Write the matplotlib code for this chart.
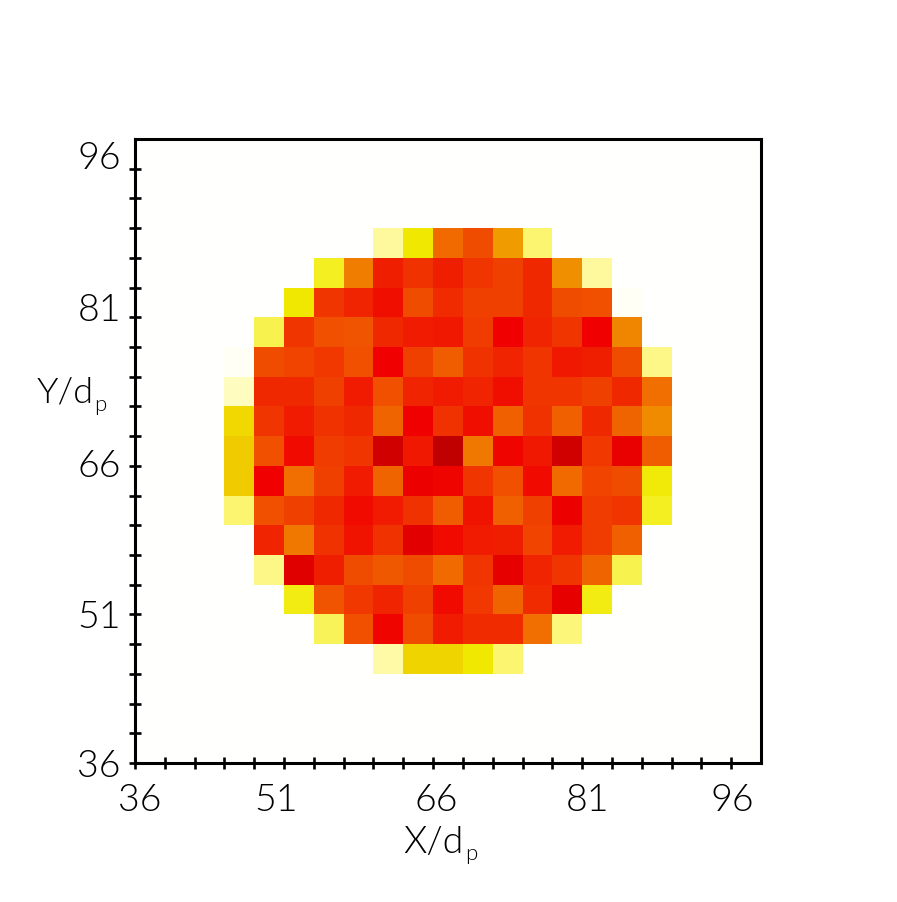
import numpy as np
import matplotlib
matplotlib.use("Agg")
import matplotlib.pyplot as plt
from matplotlib.colors import LinearSegmentedColormap
from matplotlib.transforms import ScaledTranslation

plt.rcParams['font.family'] = ['Lato', 'DejaVu Sans']
plt.rcParams['font.weight'] = 300

x_edges = np.arange(36, 100, 3)
y_edges = np.arange(36, 100, 3)
major_ticks = [36, 51, 66, 81, 96]

# cell levels, rows listed from the top of the picture down
density = np.array([
    [0] * 21,
    [0] * 21,
    [0] * 21,
    [0, 0, 0, 0, 0, 0, 0, 0, 14, 30, 58, 65, 48, 18, 0, 0, 0, 0, 0, 0, 0],
    [0, 0, 0, 0, 0, 0, 25, 54, 78, 72, 78, 71, 68, 75, 50, 14, 0, 0, 0, 0, 0],
    [0, 0, 0, 0, 0, 30, 71, 76, 82, 65, 74, 68, 68, 75, 65, 64, 3, 0, 0, 0, 0],
    [0, 0, 0, 0, 21, 71, 64, 63, 75, 79, 80, 69, 85, 76, 71, 85, 52, 0, 0, 0, 0],
    [0, 0, 0, 3, 65, 67, 70, 64, 85, 68, 61, 72, 76, 71, 80, 78, 65, 16, 0, 0, 0],
    [0, 0, 0, 10, 75, 75, 68, 79, 64, 76, 79, 76, 82, 71, 71, 68, 75, 57, 0, 0, 0],
    [0, 0, 0, 34, 71, 79, 72, 75, 59, 85, 72, 82, 60, 72, 60, 75, 59, 51, 0, 0, 0],
    [0, 0, 0, 38, 64, 83, 69, 71, 95, 80, 100, 55, 84, 80, 95, 70, 87, 61, 0, 0, 0],
    [0, 0, 0, 38, 85, 57, 68, 79, 59, 86, 84, 71, 64, 83, 58, 67, 65, 29, 0, 0, 0],
    [0, 0, 0, 18, 64, 68, 75, 83, 79, 72, 61, 81, 60, 68, 86, 69, 71, 25, 0, 0, 0],
    [0, 0, 0, 0, 76, 55, 72, 81, 72, 89, 83, 79, 78, 67, 79, 69, 60, 0, 0, 0, 0],
    [0, 0, 0, 0, 16, 90, 78, 65, 62, 65, 58, 71, 88, 76, 71, 59, 21, 0, 0, 0, 0],
    [0, 0, 0, 0, 0, 27, 63, 70, 76, 68, 83, 70, 59, 74, 88, 27, 0, 0, 0, 0, 0],
    [0, 0, 0, 0, 0, 0, 20, 64, 84, 65, 79, 74, 74, 57, 17, 0, 0, 0, 0, 0, 0],
    [0, 0, 0, 0, 0, 0, 0, 0, 13, 35, 35, 30, 18, 0, 0, 0, 0, 0, 0, 0, 0],
    [0] * 21,
    [0] * 21,
    [0] * 21,
])

level_colors = [
    (0.00, '#fffffd'), (0.03, '#fffff6'), (0.12, '#fffbb0'), (0.18, '#fbf570'),
    (0.25, '#f3ef20'), (0.30, '#f0e800'), (0.36, '#f0d000'), (0.42, '#f0c000'),
    (0.50, '#f09000'), (0.55, '#f07800'), (0.60, '#f06000'), (0.65, '#f04c00'),
    (0.70, '#f03800'), (0.75, '#f02800'), (0.80, '#f01800'), (0.85, '#f00000'),
    (0.90, '#e00000'), (0.95, '#d00000'), (1.00, '#c00000'),
]
cmap = LinearSegmentedColormap.from_list('rig', level_colors, N=512)


def pixel_text(fig, px, py, text, size):
    # place text by its baseline, in pixels from the top left of the picture
    fig.text(px / 897, 1 - py / 902, text, fontsize=size, ha='left', va='baseline')


fig = plt.figure(figsize=(8.97, 9.02), dpi=100)
ax = fig.add_axes((135 / 897, 1 - 763 / 902, 626 / 897, 624 / 902))

ax.pcolormesh(x_edges, y_edges, density[::-1], cmap=cmap, vmin=0, vmax=100)
ax.set_xlim(36, 99)
ax.set_ylim(36, 99)

for spine in ax.spines.values():
    spine.set_linewidth(2.2)

ax.set_xticks(major_ticks)
ax.set_yticks(major_ticks)
ax.set_xticks(np.arange(36, 99, 3), minor=True)
ax.set_yticks(np.arange(36, 99, 3), minor=True)
ax.tick_params(which='both', direction='inout', length=8.5, width=1.9,
               labelsize=27, color='black')
ax.tick_params(axis='x', pad=11)
ax.tick_params(axis='y', pad=6)

# the labels sit a little off their ticks in the original
x_shift = [5, -8, 3, 5, 1]
y_shift = [0, 0, 2, 10, 13]
for lab, dx in zip(ax.get_xticklabels(), x_shift):
    lab.set_transform(lab.get_transform() + ScaledTranslation(dx / 100, 0, fig.dpi_scale_trans))
for lab, dy in zip(ax.get_yticklabels(), y_shift):
    lab.set_transform(lab.get_transform() + ScaledTranslation(0, dy / 100, fig.dpi_scale_trans))

pixel_text(fig, 403, 853, 'X/d', 27)
pixel_text(fig, 465, 860, 'p', 16)
pixel_text(fig, 37, 402, 'Y/d', 26)
pixel_text(fig, 94, 411, 'p', 16)

fig.savefig('out.png', dpi=100)
